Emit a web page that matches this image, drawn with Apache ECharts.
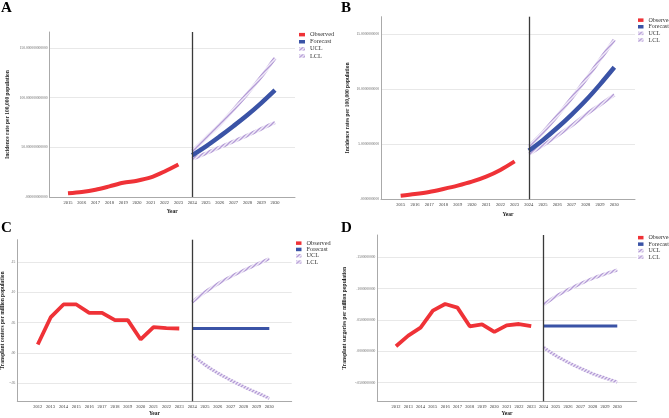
<!DOCTYPE html>
<html><head><meta charset="utf-8">
<script src="https://cdn.jsdelivr.net/npm/echarts@6/dist/echarts.min.js"></script>
<style>html,body{margin:0;padding:0;background:#fff}#c{width:669px;height:418px}</style>
</head><body><div id="c"></div>
<script>
// ---------- data ----------
const obsYearsAB = [2015,2016,2017,2018,2019,2020,2021,2022,2023];
const obsYearsCD = [2012,2013,2014,2015,2016,2017,2018,2019,2020,2021,2022,2023];
const fcYears = [2024,2025,2026,2027,2028,2029,2030];
const tickYearsAB = [2015,2016,2017,2018,2019,2020,2021,2022,2023,2024,2025,2026,2027,2028,2029,2030];
const tickYearsCD = [2012,2013,2014,2015,2016,2017,2018,2019,2020,2021,2022,2023,2024,2025,2026,2027,2028,2029,2030];

const aObserved = [3.7,5.0,7.3,10.7,14.4,16.4,19.7,25.7,32.7];
const aForecast = [42,51,61,71.5,82.5,94.5,107.5];
const aUCL = [46,59.5,73,88,104,121,140];
const aLCL = [38.4,44,50,56,62,68.5,75];
const aTicks = [0,50,100,150];
const aTickLabels = ['.000000000000','50.000000000000','100.000000000000','150.000000000000'];

const bObserved = [0.33,0.48,0.67,0.94,1.24,1.6,2.06,2.67,3.45];
const bForecast = [4.42,5.4,6.5,7.7,9.0,10.45,12.0];
const bUCL = [4.8,6.1,7.6,9.2,10.9,12.7,14.5];
const bLCL = [4.1,4.9,5.8,6.7,7.7,8.6,9.5];
const bTicks = [0,5,10,15];
const bTickLabels = ['.0000000000','5.0000000000','10.0000000000','15.0000000000'];

const cObserved = [0.0138,0.0586,0.0801,0.0801,0.0663,0.0663,0.0541,0.0541,0.0221,0.0425,0.0409,0.0403];
const cForecast = [0.0403,0.0403,0.0403,0.0403,0.0403,0.0403,0.0403];
const cUCL = [0.084,0.1006,0.1144,0.126,0.1365,0.1464,0.156];
const cLCL = [-0.0034,-0.0200,-0.0338,-0.0454,-0.0559,-0.0658,-0.0754];
const cTicks = [-0.05,0,0.05,0.1,0.15];
const cTickLabels = ['-.05','.00','.05','.10','.15'];

const dObserved = [0.008,0.025,0.0378,0.0649,0.0755,0.0697,0.0399,0.0431,0.0309,0.0415,0.0436,0.0404];
const dForecast = [0.0404,0.0404,0.0404,0.0404,0.0404,0.0404,0.0404];
const dUCL = [0.0745,0.0878,0.0984,0.108,0.1165,0.1234,0.1298];
const dLCL = [0.0063,-0.0070,-0.0176,-0.0272,-0.0357,-0.0426,-0.0490];
const dTicks = [-0.05,0,0.05,0.1,0.15];
const dTickLabels = ['-.0500000000','.0000000000','.0500000000','.1000000000','.1500000000'];

const seriesNames = ['Observed','Forecast','UCL','LCL'];

// ---------- styles ----------
const FONT = 'Liberation Serif';
const RED = '#ef3237', BLUE = '#3a53a6', PURPLE = '#b49bd3';
function hatch(){
  const cv = document.createElement('canvas'); cv.width = 4; cv.height = 4;
  const g = cv.getContext('2d');
  g.fillStyle = '#f1ebf8'; g.fillRect(0,0,4,4);
  g.strokeStyle = '#b39bd6'; g.lineWidth = 1.3;
  g.beginPath(); g.moveTo(0,4); g.lineTo(4,0); g.moveTo(-1,1); g.lineTo(1,-1); g.moveTo(3,5); g.lineTo(5,3); g.stroke();
  return {image: cv, repeat: 'repeat'};
}
const HATCH = hatch();

const panels = [
  {letter:'A', lpos:[1,1], grid:{left:49.5, top:32, width:245.5, height:165}, x:[2013.66,2031.45], y:[0,166.1],
   xt:tickYearsAB, yt:aTicks, yl:aTickLabels, oy:obsYearsAB, obs:aObserved, fc:aForecast, ucl:aUCL, lcl:aLCL,
   yName:'Incidence rate per 100,000 population', yGap:38.5, xGap:12, leg:[299,31.5], iw:6, lgap:0.8, fs:6.3, smooth:0.3, w:[4,4.5,3.5]},
  {letter:'B', lpos:[341,1], grid:{left:381, top:16.7, width:254, height:182.6}, x:[2013.62,2031.45], y:[0,16.6],
   xt:tickYearsAB, yt:bTicks, yl:bTickLabels, oy:obsYearsAB, obs:bObserved, fc:bForecast, ucl:bUCL, lcl:bLCL,
   yName:'Incidence rates per 100,000 population', yGap:30.5, xGap:12, leg:[638,17], iw:5.5, lgap:0.3, fs:6, smooth:0.3, w:[4,4.5,3.5]},
  {letter:'C', lpos:[1,221], grid:{left:17.3, top:239.7, width:274.4, height:161.6}, x:[2010.41,2031.74], y:[-0.0803,0.1874],
   xt:tickYearsCD, yt:cTicks, yl:cTickLabels, oy:obsYearsCD, obs:cObserved, fc:cForecast, ucl:cUCL, lcl:cLCL,
   yName:'Transplant centers per million population', yGap:7, xGap:9, leg:[296,240], iw:5.5, lgap:0, fs:6.3, smooth:false, w:[3.8,3.2,3.2]},
  {letter:'D', lpos:[341,221], grid:{left:377.3, top:235, width:259.4, height:166.3}, x:[2010.48,2031.58], y:[-0.0799,0.1858],
   xt:tickYearsCD, yt:dTicks, yl:dTickLabels, oy:obsYearsCD, obs:dObserved, fc:dForecast, ucl:dUCL, lcl:dLCL,
   yName:'Transplant surgeries per million population', yGap:30, xGap:9, leg:[638,234.5], iw:5.5, lgap:0.2, fs:6, smooth:false, w:[3.8,3.2,3.2]}
];

const zip = (xs, ys) => xs.map((x,i)=>[x, ys[i]]);
const option = {animation:false, title:[], grid:[], xAxis:[], yAxis:[], legend:[], series:[]};

panels.forEach((p,i)=>{
  option.title.push({text:p.letter, left:p.lpos[0], top:p.lpos[1], padding:0,
    textStyle:{fontFamily:FONT, fontWeight:'bold', fontSize:15, color:'#000'}});
  option.grid.push(Object.assign({outerBoundsMode:'none', containLabel:false}, p.grid));
  option.xAxis.push({type:'value', gridIndex:i, min:p.x[0], max:p.x[1],
    name:'Year', nameLocation:'middle', nameGap:p.xGap,
    nameTextStyle:{fontFamily:FONT, fontWeight:'bold', fontSize:5.5, color:'#222'},
    axisLine:{show:true, onZero:false, lineStyle:{color:'#aaa', width:1}},
    axisTick:{show:false, customValues:p.xt}, splitLine:{show:false},
    axisLabel:{customValues:p.xt, fontFamily:FONT, fontSize:4.5, color:'#333', margin:3, formatter:v=>String(v)}});
  const lab = {}; p.yt.forEach((v,k)=>{lab[v.toFixed(4)] = p.yl[k];});
  option.yAxis.push({type:'value', gridIndex:i, min:p.y[0], max:p.y[1],
    name:p.yName, nameLocation:'middle', nameGap:p.yGap,
    nameTextStyle:{fontFamily:FONT, fontWeight:'bold', fontSize:5.5, color:'#222'},
    axisLine:{show:true, lineStyle:{color:'#aaa', width:1}},
    axisTick:{show:false, customValues:p.yt},
    splitLine:{show:true, lineStyle:{color:'#e2e2e2', width:0.8}},
    axisLabel:{customValues:p.yt, fontFamily:FONT, fontSize:3.6, color:'#666', margin:2,
      formatter:v=>lab[Number(v).toFixed(4)] ?? ''}});
  option.legend.push({orient:'vertical', left:p.leg[0], top:p.leg[1], padding:0, itemGap:p.lgap,
    itemWidth:p.iw, itemHeight:3.5, selectedMode:false,
    textStyle:{fontFamily:FONT, fontSize:p.fs, color:'#333', lineHeight:6.3},
    data:[
      {name:'Observed', icon:'rect', itemStyle:{color:RED}},
      {name:'Forecast', icon:'rect', itemStyle:{color:BLUE}},
      {name:'UCL', icon:'rect', itemStyle:{color:HATCH}},
      {name:'LCL', icon:'rect', itemStyle:{color:HATCH}}
    ]});
  const base = {type:'line', xAxisIndex:i, yAxisIndex:i, showSymbol:false, symbol:'none', silent:true};
  option.series.push(Object.assign({}, base, {name:'UCL', data:zip(fcYears,p.ucl), smooth:0.35,
    itemStyle:{color:PURPLE}, lineStyle:{color:HATCH, width:p.w[2]}}));
  option.series.push(Object.assign({}, base, {name:'LCL', data:zip(fcYears,p.lcl), smooth:0.35,
    itemStyle:{color:PURPLE}, lineStyle:{color:HATCH, width:p.w[2]}}));
  option.series.push(Object.assign({}, base, {name:'Forecast', data:zip(fcYears,p.fc), smooth:0.35,
    itemStyle:{color:BLUE}, lineStyle:{color:BLUE, width:p.w[1]},
    markLine:{silent:true, symbol:['none','none'], label:{show:false},
      lineStyle:{color:'#3a3a3a', width:1.3, type:'solid'}, data:[{xAxis:2024}]}}));
  option.series.push(Object.assign({}, base, {name:'Observed', data:zip(p.oy,p.obs), smooth:p.smooth,
    itemStyle:{color:RED}, lineStyle:{color:RED, width:p.w[0]}}));
});

const chart = echarts.init(document.getElementById('c'), null, {renderer:'canvas'});
chart.setOption(option);
</script>
</body></html>
